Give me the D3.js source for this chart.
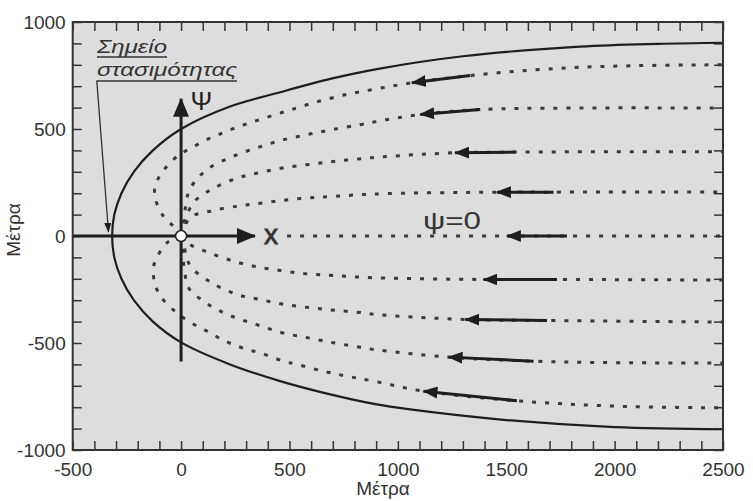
<!DOCTYPE html>
<html>
<head>
<meta charset="utf-8">
<script src="https://cdn.jsdelivr.net/npm/d3@7"></script>
<style>
  body { margin: 0; background: #fff; }
  svg { display: block; font-family: "Liberation Sans", Arial, sans-serif; }
</style>
</head>
<body>
<script>
// Tick labels
const xTicks = [-500, 0, 500, 1000, 1500, 2000, 2500];
const yTicks = [-1000, -500, 0, 500, 1000];

// Dividing streamline (capture zone boundary)
const dividing = [
  [2500, -903], [2000, -893], [1500, -860], [1039, -808], [903, -787], [688, -740],
  [457, -678], [226, -600], [0, -497], [-130, -400], [-218, -300], [-275, -200],
  [-308, -100], [-318, 0], [-308, 100], [-275, 200], [-218, 300], [-130, 400],
  [0, 500], [226, 605], [457, 672], [688, 734], [903, 780], [1300, 840],
  [1841, 885], [2200, 898], [2500, 903]
];

// Dotted streamlines, from the well at the origin out to the right edge
const streamUp800 = [
  [0, 0], [-36, 46], [-82, 93], [-118, 171], [-120, 233], [-89, 295], [-43, 350],
  [0, 385], [49, 412], [103, 443], [157, 466], [211, 490], [272, 513], [326, 532],
  [388, 552], [449, 572], [511, 591], [620, 625], [765, 662], [903, 688],
  [1065, 716], [1334, 750], [1733, 783], [2100, 796], [2500, 800]
];
const streamUp600 = [
  [0, 0], [10, 50], [18, 120], [30, 190], [60, 250], [126, 315], [234, 370],
  [349, 412], [465, 448], [587, 475], [703, 498], [826, 520], [903, 535],
  [1103, 568], [1380, 591], [1800, 598], [2500, 598]
];
const streamUp400 = [
  [0, 0], [15, 55], [30, 105], [60, 160], [142, 219], [257, 270], [365, 297],
  [480, 320], [603, 336], [718, 350], [841, 362], [903, 368], [1264, 389],
  [1541, 392], [2000, 394], [2500, 394]
];
const streamUp200 = [
  [0, 0], [20, 50], [42, 88], [134, 116], [257, 139], [341, 150], [457, 165],
  [580, 178], [703, 185], [888, 196], [1457, 205], [1718, 205], [2500, 206]
];
const streamZero = [[489, 0], [2500, 0]];
const streamDn200 = [
  [0, 0], [20, -25], [49, -45], [111, -71], [218, -110], [334, -141], [457, -161],
  [580, -177], [703, -185], [888, -195], [1395, -203], [1734, -203], [2500, -206]
];
const streamDn400 = [
  [0, 0], [15, -50], [25, -100], [49, -149], [142, -219], [257, -273], [365, -297],
  [480, -320], [603, -336], [718, -348], [841, -359], [903, -367], [1311, -390],
  [1688, -395], [2500, -402]
];
const streamDn600 = [
  [0, 0], [8, -60], [12, -130], [20, -190], [34, -242], [126, -320], [234, -375],
  [349, -414], [465, -452], [587, -476], [703, -499], [826, -520], [888, -530],
  [1234, -566], [1626, -585], [2000, -592], [2500, -593]
];
const streamDn800 = [
  [0, 0], [-66, -32], [-112, -102], [-128, -149], [-120, -227], [-89, -289],
  [-20, -359], [34, -398], [88, -429], [134, -452], [188, -484], [241, -507],
  [303, -530], [365, -546], [472, -585], [534, -600], [657, -632], [765, -655],
  [888, -678], [1118, -725], [1549, -770], [2000, -795], [2500, -803]
];
const streamlines = [streamUp800, streamUp600, streamUp400, streamUp200, streamZero,
                     streamDn200, streamDn400, streamDn600, streamDn800];

// Flow arrows on each streamline (tail -> tip)
const arrowTails = [[1334, 750], [1380, 591], [1541, 392], [1718, 205], [1780, 0],
                    [1734, -203], [1688, -395], [1626, -585], [1549, -770]];
const arrowTips  = [[1065, 716], [1103, 568], [1264, 389], [1457, 205], [1503, 0],
                    [1395, -203], [1311, -390], [1234, -566], [1118, -725]];

const width = 753, height = 501;
const x = d3.scaleLinear().domain([-500, 2500]).range([72.7, 723]);
const y = d3.scaleLinear().domain([-1000, 1000]).range([450, 22]);

const svg = d3.select("body").append("svg")
  .attr("width", width).attr("height", height);

const defs = svg.append("defs");
defs.append("clipPath").attr("id", "plot")
  .append("rect")
  .attr("x", x(-500)).attr("y", y(1000))
  .attr("width", x(2500) - x(-500)).attr("height", y(-1000) - y(1000));

function marker(id, len, wid) {
  defs.append("marker").attr("id", id)
    .attr("markerUnits", "userSpaceOnUse")
    .attr("viewBox", `0 0 ${len} ${wid}`)
    .attr("markerWidth", len).attr("markerHeight", wid)
    .attr("refX", len - 1).attr("refY", wid / 2)
    .attr("orient", "auto")
    .append("path")
    .attr("d", `M0,0L${len},${wid / 2}L0,${wid}Z`)
    .attr("fill", "#1e1e1e");
}
marker("flowHead", 15, 12);
marker("axisHead", 19, 16);
marker("noteHead", 10, 7);

// plot background
svg.append("rect")
  .attr("x", x(-500)).attr("y", y(1000))
  .attr("width", x(2500) - x(-500)).attr("height", y(-1000) - y(1000))
  .attr("fill", "#dddddd");

// minor ticks every 100 m on all sides, pointing inward
const xMinor = d3.range(-500, 2501, 100);
const yMinor = d3.range(-1000, 1001, 100);
const tickStyle = g => {
  g.select(".domain").remove();
  g.selectAll("line").attr("stroke", "#333").attr("stroke-width", 1.5);
};
svg.append("g").attr("transform", `translate(0,${y(-1000)})`)
  .call(d3.axisBottom(x).tickValues(xMinor).tickSize(-9).tickFormat("")).call(tickStyle);
svg.append("g").attr("transform", `translate(0,${y(1000)})`)
  .call(d3.axisTop(x).tickValues(xMinor).tickSize(-9).tickFormat("")).call(tickStyle);
svg.append("g").attr("transform", `translate(${x(-500)},0)`)
  .call(d3.axisLeft(y).tickValues(yMinor).tickSize(-9).tickFormat("")).call(tickStyle);
svg.append("g").attr("transform", `translate(${x(2500)},0)`)
  .call(d3.axisRight(y).tickValues(yMinor).tickSize(-9).tickFormat("")).call(tickStyle);

// tick labels
const plain = d => String(d);
const labelStyle = g => {
  g.select(".domain").remove();
  g.selectAll("text").attr("font-size", 19).attr("fill", "#333")
    .attr("font-family", "Liberation Sans, Arial, sans-serif");
};
svg.append("g").attr("transform", `translate(0,${y(-1000)})`)
  .call(d3.axisBottom(x).tickValues(xTicks).tickFormat(plain).tickSize(0).tickPadding(13))
  .call(labelStyle);
svg.append("g").attr("transform", `translate(${x(-500)},0)`)
  .call(d3.axisLeft(y).tickValues(yTicks).tickFormat(plain).tickSize(0).tickPadding(7))
  .call(labelStyle);

// axis titles
svg.append("text").attr("x", 383).attr("y", 495)
  .attr("text-anchor", "middle").attr("font-size", 19).attr("fill", "#333").text("Μέτρα");
svg.append("text").attr("transform", "translate(20,230) rotate(-90)")
  .attr("text-anchor", "middle").attr("font-size", 19).attr("fill", "#333").text("Μέτρα");

const plot = svg.append("g").attr("clip-path", "url(#plot)");
const line = d3.line().x(d => x(d[0])).y(d => y(d[1])).curve(d3.curveCatmullRom.alpha(0.5));

// dotted streamlines
plot.selectAll("path.stream").data(streamlines).join("path")
  .attr("class", "stream")
  .attr("d", line)
  .attr("fill", "none")
  .attr("stroke", "#3a3a3a")
  .attr("stroke-width", 3)
  .attr("stroke-dasharray", "4,9");

// dividing streamline
plot.append("path").datum(dividing)
  .attr("d", line)
  .attr("fill", "none")
  .attr("stroke", "#1e1e1e")
  .attr("stroke-width", 2.2);

// flow arrows
plot.selectAll("line.flow").data(arrowTails).join("line")
  .attr("class", "flow")
  .attr("x1", d => x(d[0])).attr("y1", d => y(d[1]))
  .attr("x2", (d, i) => x(arrowTips[i][0])).attr("y2", (d, i) => y(arrowTips[i][1]))
  .attr("stroke", "#1e1e1e").attr("stroke-width", 3)
  .attr("marker-end", "url(#flowHead)");

// coordinate axes x and psi through the well
svg.append("line")
  .attr("x1", x(-500)).attr("y1", y(0)).attr("x2", x(341)).attr("y2", y(0))
  .attr("stroke", "#1e1e1e").attr("stroke-width", 3)
  .attr("marker-end", "url(#axisHead)");
svg.append("line")
  .attr("x1", x(0)).attr("y1", y(-586)).attr("x2", x(0)).attr("y2", y(641))
  .attr("stroke", "#1e1e1e").attr("stroke-width", 3)
  .attr("marker-end", "url(#axisHead)");

// well
svg.append("circle").attr("cx", x(0)).attr("cy", y(0)).attr("r", 5.5)
  .attr("fill", "#fff").attr("stroke", "#1e1e1e").attr("stroke-width", 1.5);

// labels
svg.append("text").attr("x", x(415)).attr("y", y(0) + 8)
  .attr("text-anchor", "middle").attr("font-size", 28).attr("fill", "#333")
  .attr("stroke", "#333").attr("stroke-width", 0.8).text("x");
svg.append("text").attr("x", x(93)).attr("y", y(590))
  .attr("text-anchor", "middle").attr("font-size", 26).attr("fill", "#222").text("Ψ");
svg.append("text").attr("x", 423).attr("y", 229)
  .attr("font-size", 23).attr("fill", "#333")
  .attr("textLength", 58).attr("lengthAdjust", "spacingAndGlyphs").text("ψ=0");

// stagnation point note
const note = svg.append("g").attr("fill", "#333").attr("font-size", 19).attr("font-style", "italic");
note.append("text").attr("x", 97).attr("y", 53)
  .attr("textLength", 70).attr("lengthAdjust", "spacingAndGlyphs").text("Σημείο");
note.append("text").attr("x", 97).attr("y", 76)
  .attr("textLength", 140).attr("lengthAdjust", "spacingAndGlyphs").text("στασιμότητας");
note.append("line").attr("x1", 97).attr("x2", 167).attr("y1", 57).attr("y2", 57)
  .attr("stroke", "#333").attr("stroke-width", 1.3);
note.append("line").attr("x1", 97).attr("x2", 237).attr("y1", 81).attr("y2", 81)
  .attr("stroke", "#333").attr("stroke-width", 1.3);
svg.append("line")
  .attr("x1", x(-389)).attr("y1", y(727)).attr("x2", x(-335)).attr("y2", y(20))
  .attr("stroke", "#333").attr("stroke-width", 1.3)
  .attr("marker-end", "url(#noteHead)");

// frame
svg.append("rect")
  .attr("x", x(-500)).attr("y", y(1000))
  .attr("width", x(2500) - x(-500)).attr("height", y(-1000) - y(1000))
  .attr("fill", "none").attr("stroke", "#333").attr("stroke-width", 2);
</script>
</body>
</html>
